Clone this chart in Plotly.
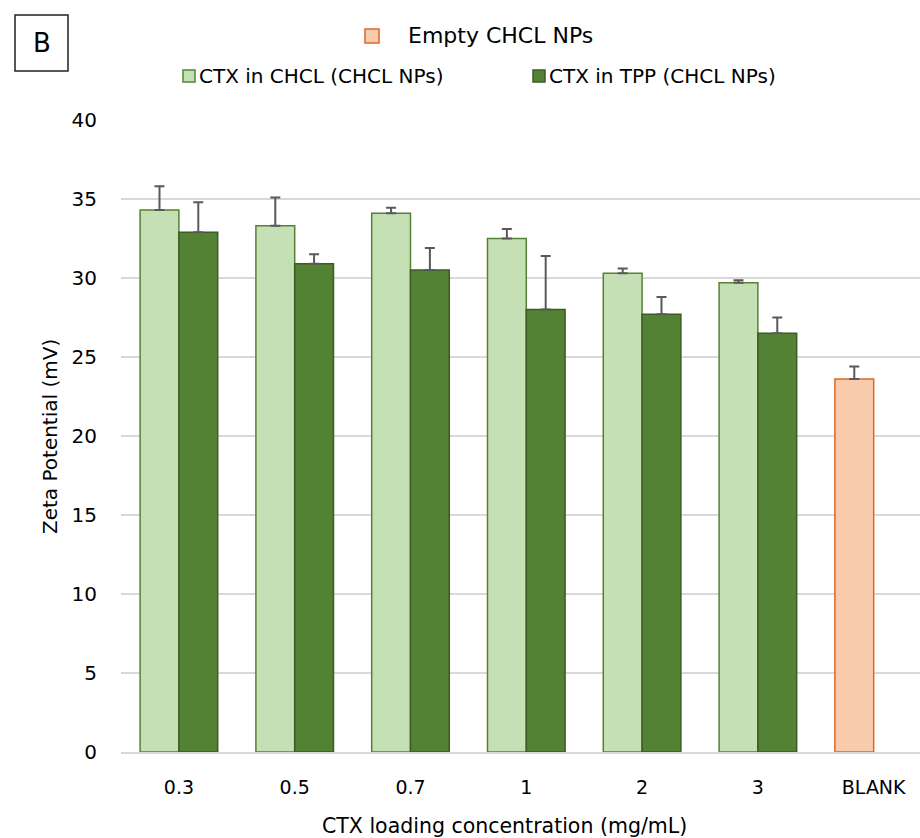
import plotly.graph_objects as go

# Zeta potential of chitosan-HCl nanoparticles at different CTX loading concentrations
categories = ["0.3", "0.5", "0.7", "1", "2", "3", "BLANK"]

chcl_values = [34.3, 33.3, 34.1, 32.5, 30.3, 29.7]
chcl_errors = [1.5, 1.8, 0.35, 0.6, 0.3, 0.15]

tpp_values = [32.9, 30.9, 30.5, 28.0, 27.7, 26.5]
tpp_errors = [1.9, 0.6, 1.4, 3.4, 1.1, 1.0]

blank_values = [23.6]
blank_errors = [0.8]

series_names = ["CTX in CHCL (CHCL NPs)", "CTX in TPP (CHCL NPs)", "Empty CHCL NPs"]

FONT = "DejaVu Sans, sans-serif"
TEXT = "#000000"
ERR = "#595959"
BAR_W = 0.335

LIGHT = dict(fill="#c5e0b4", edge="#548235")
DARK = dict(fill="#548235", edge="#3a5c24")
ORANGE = dict(fill="#f8cbad", edge="#d8692a")

W, H = 920, 838
ML, MR, MT, MB = 121, 0, 120, 86
PW, PH = W - ML - MR, H - MT - MB


def px_x(x):
    return (x - ML) / PW


def px_y(y):
    return (H - MB - y) / PH


def err_bar(vals):
    return dict(type="data", symmetric=False, array=vals,
                arrayminus=[0] * len(vals), color=ERR, thickness=2, width=5)


fig = go.Figure()

fig.add_trace(go.Bar(
    name=series_names[0], x=categories[:6], y=chcl_values,
    width=BAR_W, offset=-BAR_W,
    marker=dict(color=LIGHT["fill"], line=dict(color=LIGHT["edge"], width=1.5)),
    error_y=err_bar(chcl_errors), showlegend=False,
))

fig.add_trace(go.Bar(
    name=series_names[1], x=categories[:6], y=tpp_values,
    width=BAR_W, offset=0,
    marker=dict(color=DARK["fill"], line=dict(color=DARK["edge"], width=1.5)),
    error_y=err_bar(tpp_errors), showlegend=False,
))

fig.add_trace(go.Bar(
    name=series_names[2], x=categories[6:], y=blank_values,
    width=BAR_W, offset=-BAR_W,
    marker=dict(color=ORANGE["fill"], line=dict(color=ORANGE["edge"], width=1.5)),
    error_y=err_bar(blank_errors), showlegend=False,
))

fig.update_layout(
    width=W, height=H,
    margin=dict(l=ML, r=MR, t=MT, b=MB),
    paper_bgcolor="white", plot_bgcolor="white",
    font=dict(family=FONT, size=20, color=TEXT),
    barmode="overlay",
    xaxis=dict(
        type="category", categoryorder="array", categoryarray=categories,
        range=[-0.5, 6.4],
        showgrid=False, showline=True, linecolor="#d9d9d9", linewidth=1.5,
        ticks="", ticklabelstandoff=17,
        tickfont=dict(size=19, family=FONT, color=TEXT),
    ),
    yaxis=dict(
        range=[0, 40], dtick=5, tick0=0,
        showgrid=True, gridcolor="#d9d9d9", gridwidth=1.5,
        zeroline=False, showline=False,
        ticks="", ticklabelstandoff=23,
        tickfont=dict(size=20, family=FONT, color=TEXT),
    ),
)

annotations = [
    dict(text="Zeta Potential (mV)", x=px_x(50), y=px_y(437), textangle=-90,
         xanchor="center", yanchor="middle", font=dict(size=20)),
    dict(text="CTX loading concentration (mg/mL)", x=px_x(504), y=px_y(826),
         xanchor="center", yanchor="middle", font=dict(size=20.5)),
    dict(text="B", x=px_x(41.5), y=px_y(43), xanchor="center", yanchor="middle",
         font=dict(size=26)),
    # legend labels
    dict(text=series_names[2], x=px_x(406), y=px_y(36), xanchor="left",
         yanchor="middle", font=dict(size=22)),
    dict(text=series_names[0], x=px_x(197), y=px_y(76), xanchor="left",
         yanchor="middle", font=dict(size=20)),
    dict(text=series_names[1], x=px_x(547), y=px_y(76), xanchor="left",
         yanchor="middle", font=dict(size=20)),
]
for a in annotations:
    a.update(xref="paper", yref="paper", showarrow=False)
    a.setdefault("font", {}).update(family=FONT, color=TEXT)
fig.update_layout(annotations=annotations)

shapes = [
    # panel letter frame
    dict(x0=15, x1=68, y0=15, y1=71, line=dict(color="#222222", width=1.5),
         fillcolor="rgba(0,0,0,0)"),
    # legend swatches
    dict(x0=365, x1=379, y0=29, y1=43, line=dict(color=ORANGE["edge"], width=1.5),
         fillcolor=ORANGE["fill"]),
    dict(x0=183, x1=195, y0=70, y1=82, line=dict(color=LIGHT["edge"], width=1.5),
         fillcolor=LIGHT["fill"]),
    dict(x0=533, x1=545, y0=70, y1=82, line=dict(color=DARK["edge"], width=1.5),
         fillcolor=DARK["fill"]),
]
for s in shapes:
    fig.add_shape(type="rect", xref="paper", yref="paper",
                  x0=px_x(s["x0"]), x1=px_x(s["x1"]),
                  y0=px_y(s["y1"]), y1=px_y(s["y0"]),
                  line=s["line"], fillcolor=s["fillcolor"])

fig.write_html("out.html")
